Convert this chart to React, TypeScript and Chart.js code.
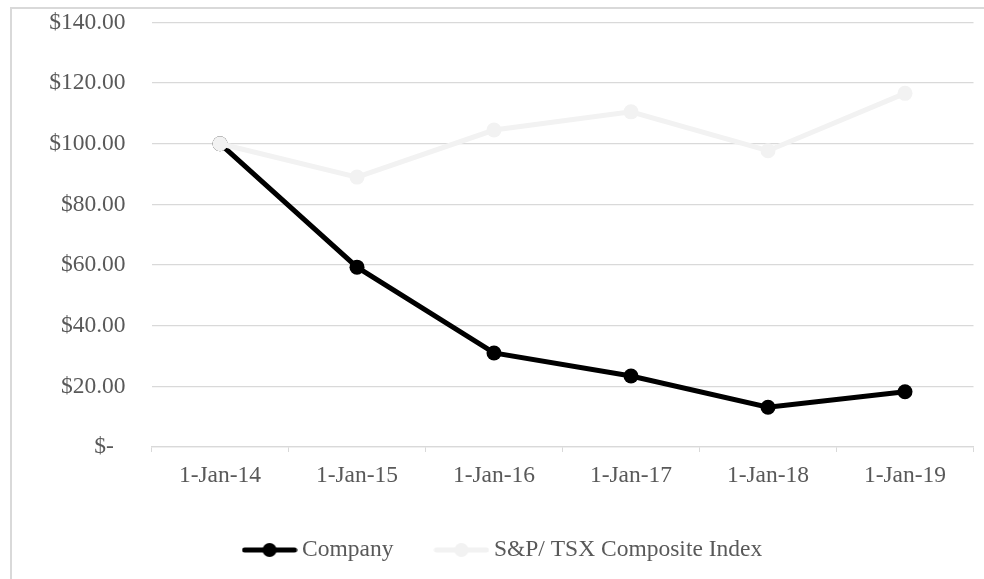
import React, { useEffect, useRef } from "react";
import { Chart, registerables } from "chart.js";

Chart.register(...registerables);

const categories = ["1-Jan-14", "1-Jan-15", "1-Jan-16", "1-Jan-17", "1-Jan-18", "1-Jan-19"];
const companyValues = [100, 59.3, 31.0, 23.4, 13.1, 18.2];
const indexValues = [100, 89.0, 104.5, 110.5, 97.7, 116.6];
const seriesNames = ["Company", "S&P/ TSX Composite Index"];
const yTickValues = [0, 20, 40, 60, 80, 100, 120, 140];
const yTickLabels = ["$-  ", "$20.00", "$40.00", "$60.00", "$80.00", "$100.00", "$120.00", "$140.00"];

const FONT = "'Liberation Serif', 'Times New Roman', serif";
const TEXT = "#595959";
const GRID = "#d9d9d9";

function makeMarker(color: string): HTMLCanvasElement {
  const c = document.createElement("canvas");
  c.width = 56;
  c.height = 16;
  const ctx = c.getContext("2d")!;
  ctx.strokeStyle = color;
  ctx.lineWidth = 5;
  ctx.lineCap = "round";
  ctx.beginPath();
  ctx.moveTo(3, 8);
  ctx.lineTo(53, 8);
  ctx.stroke();
  ctx.fillStyle = color;
  ctx.beginPath();
  ctx.arc(28, 8, 7, 0, Math.PI * 2);
  ctx.fill();
  return c;
}

export default function App() {
  const ref = useRef<HTMLCanvasElement | null>(null);

  useEffect(() => {
    if (!ref.current) return;
    const colors = ["#000000", "#f2f2f2"];
    const markers = colors.map(makeMarker);
    const chart = new Chart(ref.current, {
      type: "line",
      data: {
        labels: categories,
        datasets: [
          {
            label: seriesNames[0],
            data: companyValues,
            borderColor: colors[0],
            backgroundColor: colors[0],
            borderWidth: 5,
            pointRadius: 7.5,
            pointBorderWidth: 0,
            pointBackgroundColor: colors[0],
            tension: 0,
            order: 2,
          },
          {
            label: seriesNames[1],
            data: indexValues,
            borderColor: colors[1],
            backgroundColor: colors[1],
            borderWidth: 5,
            pointRadius: 7.5,
            pointBorderWidth: 0,
            pointBackgroundColor: colors[1],
            tension: 0,
            order: 1,
          },
        ],
      },
      options: {
        animation: false,
        responsive: false,
        maintainAspectRatio: false,
        layout: { padding: { left: 37.5, right: 10.5, top: 22.4, bottom: 18 } },
        plugins: {
          tooltip: { enabled: false },
          legend: {
            position: "bottom",
            maxHeight: 70,
            labels: {
              usePointStyle: true,
              pointStyleWidth: 41.5,
              padding: 47.25,
              color: TEXT,
              font: { family: FONT, size: 23.5 },
              sort: (a: any, b: any) => a.datasetIndex - b.datasetIndex,
              generateLabels: (chart: any) => {
                const items = Chart.defaults.plugins.legend.labels.generateLabels(chart);
                return items.map((it: any) => ({ ...it, pointStyle: markers[it.datasetIndex] }));
              },
            },
          },
        },
        scales: {
          x: {
            offset: true,
            grid: {
              offset: true,
              drawOnChartArea: false,
              drawTicks: true,
              tickLength: 5,
              color: GRID,
            },
            border: { display: true, color: GRID, width: 1.3 },
            ticks: {
              color: TEXT,
              font: { family: FONT, size: 23.5 },
              padding: 10,
              maxRotation: 0,
              autoSkip: false,
            },
            afterFit: (s: any) => {
              s.height = 44;
            },
          },
          y: {
            min: 0,
            max: 140,
            grid: { color: GRID, lineWidth: 1.3, drawTicks: false },
            border: { display: false },
            afterBuildTicks: (s: any) => {
              s.ticks = yTickValues.map((v) => ({ value: v }));
            },
            ticks: {
              color: TEXT,
              font: { family: FONT, size: 23.5 },
              padding: 26,
              callback: (v: any) => {
                const i = yTickValues.indexOf(Number(v));
                return i >= 0 ? yTickLabels[i] : "";
              },
            },
            afterFit: (s: any) => {
              s.width = 114;
              s.paddingTop = 0;
              s.paddingBottom = 0;
            },
          },
        },
      },
    });
    return () => chart.destroy();
  }, []);

  return (
    <div style={{ position: "fixed", left: 0, top: 0, width: 984, height: 579, overflow: "hidden", background: "#fff" }}>
      <div
        style={{
          position: "absolute",
          left: 10,
          top: 7,
          width: 1000,
          height: 600,
          border: "2px solid #d9d9d9",
          boxSizing: "border-box",
        }}
      />
      <canvas ref={ref} width={984} height={579} style={{ position: "absolute", left: 0, top: 0 }} />
    </div>
  );
}
